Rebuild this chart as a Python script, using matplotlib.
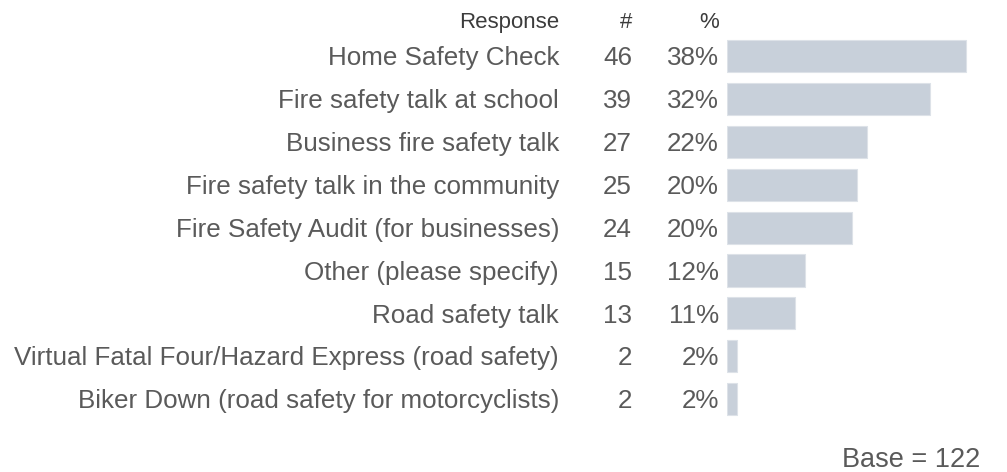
import matplotlib
matplotlib.use('Agg')
import matplotlib.pyplot as plt
import matplotlib.transforms as mtrans

plt.rcParams['font.family'] = ['Liberation Sans', 'DejaVu Sans']

# data
responses = ['Home Safety Check', 'Fire safety talk at school', 'Business fire safety talk',
             'Fire safety talk in the community', 'Fire Safety Audit (for businesses)',
             'Other (please specify)', 'Road safety talk',
             'Virtual Fatal Four/Hazard Express (road safety)',
             'Biker Down (road safety for motorcyclists)']
counts = [46, 39, 27, 25, 24, 15, 13, 2, 2]
base = 122

W, H = 1007, 472
txt = '#5a5a5a'
barc = '#c8d0da'

fig = plt.figure(figsize=(W / 100, H / 100), dpi=100)
# bar axes: starts at x=727px, 634px per 100%
x0, x1 = 727, 1000
ax = fig.add_axes([x0 / W, 0, (x1 - x0) / W, 1])
ax.set_xlim(0, (x1 - x0) / 634)
row0, step = 56, 42.9
ax.set_ylim((H - row0) / step, -row0 / step)
ax.axis('off')

shares = [c / base for c in counts]
ypos = list(range(len(counts)))
ax.barh(ypos, shares, height=0.75, color=barc, edgecolor='#dde2e8', linewidth=0.8)

tr = mtrans.blended_transform_factory(fig.transFigure, ax.transData)
fs = 18.7
dy = 0.05  # small nudge down
for i, (r, c, s) in enumerate(zip(responses, counts, shares)):
    fig.text(559 / W, i + dy, r, transform=tr, ha='right', va='center', fontsize=fs, color=txt)
    fig.text(632 / W, i + dy, str(c), transform=tr, ha='right', va='center', fontsize=fs, color=txt)
    fig.text(719 / W, i + dy, '%d%%' % round(s * 100), transform=tr, ha='right', va='center',
             fontsize=fs, color=txt)

hy = (20 - row0) / step + dy
hc = '#3c3c3c'
fig.text(559 / W, hy, 'Response', transform=tr, ha='right', va='center', fontsize=16, color=hc)
fig.text(632 / W, hy, '#', transform=tr, ha='right', va='center', fontsize=16, color=hc)
fig.text(719 / W, hy, '%', transform=tr, ha='right', va='center', fontsize=16, color=hc)

fig.text(980 / W, (458 - row0) / step + dy, 'Base = %d' % base, transform=tr, ha='right',
         va='center', fontsize=19.5, color=txt)

fig.savefig('out.png', dpi=100)
